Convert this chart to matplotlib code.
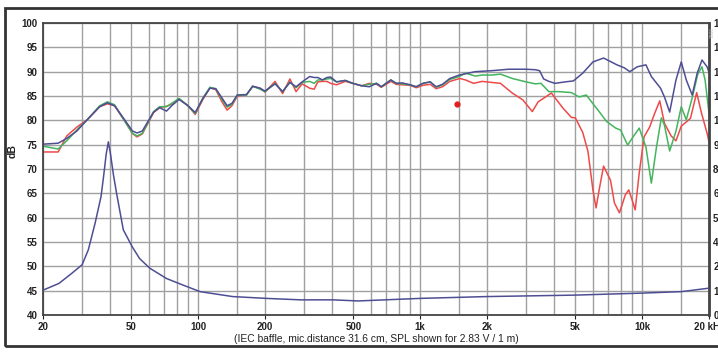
import matplotlib.pyplot as plt
from matplotlib.patches import Rectangle

plt.rcParams['font.family'] = ['Liberation Sans', 'DejaVu Sans']

# SPL curves (Hz, dB)
f_blue = [20, 23.4, 25.6, 28.4, 31.6, 36, 39, 42, 46, 50.6, 53, 56, 63, 67, 72, 76, 82, 90, 97,
          105, 113, 120, 128, 135, 142, 150, 165, 176, 190, 200, 222, 240, 259, 276, 294, 318,
          333, 346, 363, 380, 395, 420, 460, 497, 545, 590, 636, 668, 738, 780, 830, 900, 960,
          1030, 1110, 1180, 1260, 1360, 1500, 1770, 2100, 2500, 3000, 3300, 3450, 3600, 3800,
          4050, 4500, 4900, 5400, 6000, 6700, 7700, 8300, 8800, 9500, 10400, 11000, 12100,
          12600, 13300, 14200, 15000, 15800, 16800, 17700, 18600, 19600, 20000]
db_blue = [75.1, 75.3, 76.3, 77.8, 80.1, 82.8, 83.6, 83.0, 80.5, 77.8, 77.4, 77.8, 81.7, 82.6, 81.9,
           83.0, 84.3, 83.0, 81.6, 84.5, 86.6, 86.5, 84.6, 83.0, 83.5, 85.2, 85.3, 87.0, 86.6, 86.0,
           87.5, 85.9, 87.8, 86.9, 87.9, 89.0, 88.8, 88.8, 88.3, 88.8, 88.9, 87.9, 88.2, 87.6, 87.1,
           86.9, 87.6, 86.9, 88.3, 87.6, 87.7, 87.3, 86.9, 87.6, 87.9, 86.9, 87.4, 88.6, 89.3, 90.0,
           90.2, 90.5, 90.5, 90.4, 90.2, 88.5, 88.0, 87.6, 87.9, 88.1, 89.7, 92.0, 92.8, 91.4, 90.8,
           90.0, 91.0, 91.4, 89.0, 86.6, 84.8, 81.7, 88.3, 92.0, 88.3, 85.2, 89.7, 92.4, 91.0, 89.9]

f_green = [20, 23.4, 25.6, 28.4, 31.6, 36, 39, 42, 46, 50.6, 53, 56, 63, 67, 72, 76, 82, 90, 97,
           105, 113, 120, 128, 135, 142, 150, 165, 176, 190, 200, 222, 240, 259, 276, 294, 318,
           333, 346, 363, 380, 395, 420, 460, 497, 545, 590, 636, 668, 738, 780, 830, 900, 960,
           1030, 1110, 1180, 1260, 1360, 1500, 1600, 1770, 1900, 2100, 2300, 2600, 3000, 3300,
           3500, 3800, 4200, 4800, 5200, 5600, 6100, 6400, 6900, 7600, 8000, 8600, 9100, 9700,
           10400, 11000, 11600, 12200, 12600, 13300, 14200, 15000, 15800, 16800, 17800, 18600,
           19200, 20000]
db_green = [74.7, 74.1, 75.8, 78.0, 80.1, 83.0, 83.8, 83.2, 80.3, 77.3, 76.8, 77.3, 81.8, 82.8, 82.8,
            83.5, 84.5, 83.0, 81.4, 84.6, 86.8, 86.5, 84.3, 82.7, 83.3, 85.2, 85.2, 87.0, 86.4, 85.9,
            87.6, 85.9, 87.9, 86.7, 87.8, 88.0, 87.6, 88.3, 88.3, 88.5, 88.6, 87.9, 88.2, 87.6, 87.1,
            87.4, 87.6, 86.9, 88.3, 87.6, 87.5, 87.3, 86.9, 87.6, 87.9, 86.8, 87.3, 88.4, 89.0, 89.7,
            89.1, 89.3, 89.3, 89.5, 88.6, 87.9, 87.5, 87.6, 85.9, 85.9, 85.7, 84.8, 85.2, 83.0, 81.8,
            79.8, 78.4, 78.0, 74.9, 76.6, 78.4, 74.5, 67.1, 74.5, 80.5, 79.0, 73.7, 77.8, 82.8, 80.1,
            84.6, 89.5, 91.0, 88.3, 81.5]

f_red = [20, 23.4, 25.6, 28.4, 31.6, 36, 39, 42, 46, 50.6, 53, 56, 63, 67, 72, 76, 82, 90, 97,
         105, 113, 120, 128, 135, 142, 150, 165, 176, 190, 200, 222, 240, 259, 276, 294, 318,
         333, 346, 363, 380, 395, 420, 460, 497, 545, 590, 636, 668, 738, 780, 830, 900, 960,
         1030, 1110, 1180, 1260, 1360, 1510, 1600, 1740, 1900, 2300, 2600, 2900, 3200, 3400,
         3900, 4400, 4800, 5000, 5400, 5700, 6000, 6200, 6400, 6700, 7200, 7500, 7900, 8400,
         8700, 9000, 9300, 9700, 10200, 10800, 11400, 12000, 12600, 13500, 14200, 15000, 16500,
         17600, 18500, 19700, 20000]
db_red = [73.5, 73.5, 76.8, 78.6, 80.1, 82.8, 83.4, 83.0, 80.3, 77.3, 76.6, 77.2, 81.6, 82.6, 82.9,
          83.3, 84.4, 83.0, 81.2, 84.3, 86.7, 86.3, 83.8, 82.1, 83.0, 85.0, 85.2, 87.0, 86.6, 85.8,
          88.0, 85.5, 88.5, 85.9, 87.5, 86.6, 86.4, 87.9, 88.0, 88.0, 87.6, 87.3, 88.0, 87.6, 87.1,
          87.6, 87.4, 86.8, 88.0, 87.4, 87.3, 87.2, 86.7, 87.2, 87.4, 86.5, 86.9, 88.0, 88.6, 88.3,
          87.6, 88.0, 87.6, 85.6, 84.2, 81.8, 83.8, 85.6, 82.5, 80.6, 80.5, 77.5, 73.6, 65.7, 62.0,
          65.7, 70.6, 67.7, 63.0, 61.0, 64.7, 65.7, 63.7, 61.6, 69.2, 76.6, 78.6, 81.5, 84.0, 79.4,
          76.8, 75.8, 78.8, 80.4, 85.7, 81.5, 77.0, 75.5]

# impedance curve (right axis, 0..160)
f_imp = [20, 23.6, 27, 30, 32, 34.3, 36.5, 37.5, 38.5, 39.4, 40.3, 41.5, 43, 46, 50.5, 54.5, 60.6,
         72, 85, 102, 143, 203, 290, 405, 526, 1000, 2000, 5000, 10000, 15000, 20000]
z_imp = [13.6, 17.3, 22.9, 27.5, 35.7, 50.1, 64.8, 76.0, 88.0, 94.9, 88.0, 77.0, 66.0, 46.7, 37.3,
         30.9, 25.6, 20.0, 16.5, 12.8, 10.1, 9.1, 8.3, 8.3, 7.7, 9.1, 10.1, 10.9, 12.0, 12.8, 14.7]

marker_f, marker_db = 1466, 83.4

xticks = [20, 50, 100, 200, 500, 1000, 2000, 5000, 10000, 20000]
xticklabels = ["20", "50", "100", "200", "500", "1k", "2k", "5k", "10k", "20 kHz"]
grid_f = [20, 30, 40, 50, 60, 70, 80, 90, 100, 150, 200, 300, 400, 500, 600, 700, 800, 900,
          1000, 1500, 2000, 3000, 4000, 5000, 6000, 7000, 8000, 9000, 10000, 15000, 20000]
yticks = list(range(40, 101, 5))
right_labels = ["0", "13", "27", "40", "53", "67", "80", "93", "107", "120", "133", "147", "160"]

c_blue = "#4e4e94"
c_green = "#45b45e"
c_red = "#ee4a4a"

fig = plt.figure(figsize=(7.18, 3.52), dpi=100)
fig.patches.append(Rectangle((5 / 718, 6 / 352), 1.0, 338 / 352, transform=fig.transFigure,
                             fill=False, edgecolor="#333333", linewidth=2.0))

ax = fig.add_axes([43 / 718, 37 / 352, 666 / 718, 292 / 352])
ax.set_xscale("log")

for g in grid_f:
    ax.axvline(g, color="#a0a0a0", lw=1.0, zorder=0)
for y in yticks:
    ax.axhline(y, color="#a0a0a0", lw=1.0, zorder=0)

ax.plot(f_red, db_red, color=c_red, lw=1.1)
ax.plot(f_green, db_green, color=c_green, lw=1.1)
ax.plot(f_blue, db_blue, color=c_blue, lw=1.1)
ax.plot(marker_f, marker_db, "o", color="#e02020", ms=3.5)

ax2 = ax.twinx()
ax2.plot(f_imp, z_imp, color=c_blue, lw=1.1)
ax2.set_ylim(0, 160)
ax2.set_yticks([i * 160 / 12 for i in range(13)])
ax2.set_yticklabels(right_labels)
ax2.tick_params(labelsize=7, colors="#222222", length=0, pad=3)
for lab in ax2.get_yticklabels():
    lab.set_fontweight("bold")
for s in ax2.spines.values():
    s.set_visible(False)

ax.set_xlim(20, 20000)
ax.set_ylim(40, 100)
ax.set_xticks(xticks)
ax.set_xticklabels(xticklabels)
ax.xaxis.set_minor_locator(plt.NullLocator())
ax.set_yticks(yticks)
ax.tick_params(labelsize=7, colors="#222222", length=3, width=0.8, pad=2)
ax.tick_params(axis="y", length=0, pad=4)
for lab in ax.get_xticklabels() + ax.get_yticklabels():
    lab.set_fontweight("bold")
for s in ax.spines.values():
    s.set_color("#444444")
    s.set_linewidth(1.3)
ax.spines["right"].set_linewidth(2.0)

ax.set_ylabel("dB", fontsize=7.5, fontweight="bold", color="#222222")
ax.yaxis.set_label_coords(-0.0375, 0.56)
ax.set_xlabel("(IEC baffle, mic.distance 31.6 cm, SPL shown for 2.83 V / 1 m)",
              fontsize=7.4, color="#222222")
ax.xaxis.set_label_coords(0.5, -0.064)

fig.text(712 / 718, 1 - 32 / 352, "7800", rotation=90, fontsize=3.5, color="#bbbbbb",
         ha="center", va="center")

fig.savefig("out.png", dpi=100)
